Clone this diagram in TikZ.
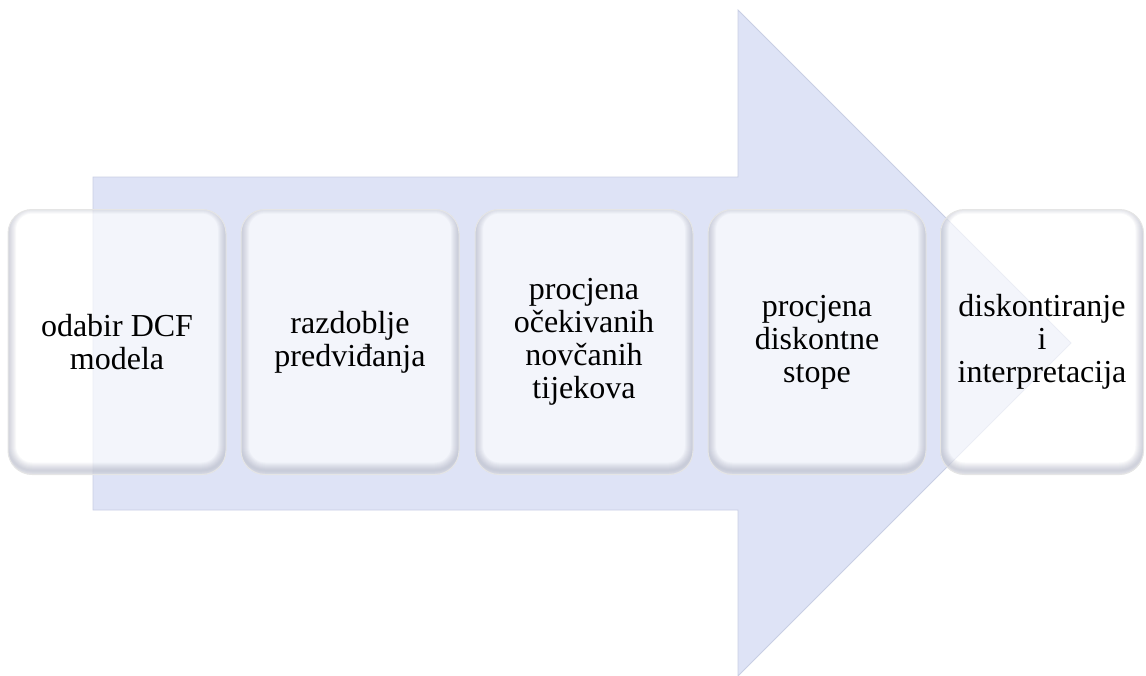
\documentclass[tikz,border=0pt]{standalone}
\usepackage{fontspec}
\setmainfont{Liberation Serif}
\definecolor{arrowblue}{RGB}{222,227,246}
\definecolor{arrowedge}{RGB}{200,206,228}
\definecolor{shadegray}{RGB}{140,145,170}
\tikzset{
  stepbox/.style={rectangle, rounded corners=24pt, minimum width=218pt, minimum height=265pt,
    inner sep=0pt, align=center, font=\fontsize{32}{33}\selectfont,
    fill=white, fill opacity=0.65, text opacity=1, draw=gray!20, line width=1pt,
    path picture={
      % soft inner shadow, heavier at the bottom
      \foreach \w in {2,4,...,16}
        \draw[shadegray, draw opacity=0.06, line width=\w pt, rounded corners=24pt]
          ([yshift=4pt]path picture bounding box.north west) rectangle ([yshift=4pt]path picture bounding box.south east);
    }},
}
\begin{document}
\begin{tikzpicture}[x=1pt,y=-1pt]
  \useasboundingbox (0,0) rectangle (1146,675);

  % big arrow behind the steps
  \filldraw[fill=arrowblue,draw=arrowedge,line width=0.8pt] (93,177) -- (738,177) -- (738,10) -- (1071,343) -- (738,676) -- (738,510) -- (93,510) -- cycle;

  \node[stepbox] (model) at (117,342) {odabir DCF\\modela};
  \node[stepbox] (razdoblje) at (350,342) {razdoblje\\predviđanja};
  \node[stepbox] (tijekovi) at (584,342) {procjena\\očekivanih\\novčanih\\tijekova};
  \node[stepbox] (stopa) at (817,342) {procjena\\diskontne\\stope};
  \node[stepbox,minimum width=203pt] (interpretacija) at (1042,342) {diskontiranje\\i\\interpretacija};

\end{tikzpicture}
\end{document}
